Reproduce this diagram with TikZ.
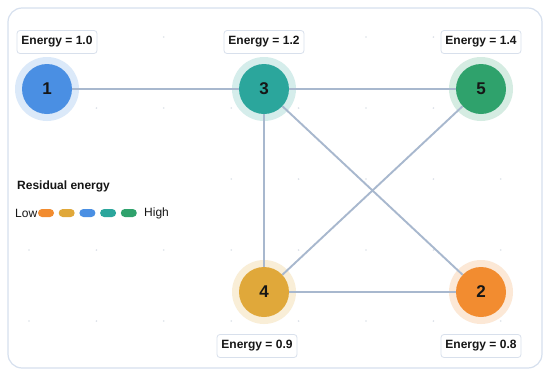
\documentclass[tikz,border=0pt]{standalone}
\usepackage{fontspec}
\setmainfont{Liberation Sans}
\usepackage{tikz}
\definecolor{ResOrange}{HTML}{F28C30}
\definecolor{ResGold}{HTML}{E0A83A}
\definecolor{ResBlue}{HTML}{4A8FE3}
\definecolor{ResTeal}{HTML}{2BA69C}
\definecolor{ResGreen}{HTML}{2FA26C}
\definecolor{LinkGray}{HTML}{A8B8CE}
\definecolor{FrameLine}{HTML}{D6E0EE}
\definecolor{TagLine}{HTML}{D8E0EC}
\definecolor{GridDot}{HTML}{DCE1E8}
\definecolor{NodeInk}{HTML}{161616}

\begin{document}
\begin{tikzpicture}[x=1pt,y=-1pt,
    sensor/.style={circle, inner sep=0pt, minimum size=50pt, text=NodeInk,
      font=\fontsize{17}{17}\selectfont\bfseries},
    link/.style={draw=LinkGray, line width=1.9pt},
    energytag/.style={draw=TagLine, line width=0.8pt, fill=white,
      rounded corners=3pt, minimum width=80pt, minimum height=23pt,
      inner sep=0pt, text=NodeInk, font=\fontsize{12}{12}\selectfont\bfseries},
    pill/.style={rounded corners=4pt, minimum width=16pt, minimum height=8pt,
      inner sep=0pt}]
    \useasboundingbox (0,0) rectangle (550,378);
    \draw[FrameLine, fill=white, line width=1.2pt, rounded corners=14pt]
      (8,8) rectangle (542,368);

    \foreach \i in {0,...,7}
      \foreach \j in {0,...,4}
        \fill[GridDot] (29+67.4*\i,37+71*\j) circle[radius=0.9];

    % legend area
    \fill[white] (12,168) rectangle (180,226);
    \node[anchor=west, inner sep=0pt, text=NodeInk,
      font=\fontsize{12}{12}\selectfont\bfseries] (legendtitle) at (17,186) {Residual energy};
    \node[anchor=west, inner sep=0pt, text=NodeInk,
      font=\fontsize{12}{12}\selectfont] (lowtext) at (15,213) {Low};
    \foreach \c [count=\k] in {ResOrange,ResGold,ResBlue,ResTeal,ResGreen}
      \node[pill, fill=\c] (pill\k) at (46+20.7*\k-20.7,213) {};
    \node[anchor=west, inner sep=0pt, text=NodeInk,
      font=\fontsize{12}{12}\selectfont] (hightext) at (144,213) {High};

    % sensors with halo
    \foreach \n/\x/\y/\c in {1/47/89/ResBlue, 3/264/89/ResTeal, 5/481/89/ResGreen,
                             4/264/292/ResGold, 2/481/292/ResOrange} {
      \fill[\c!20] (\x,\y) circle[radius=32];
      \node[sensor, fill=\c] (n\n) at (\x,\y) {\n};
    }

    \draw[link] (n1) -- (n3);
    \draw[link] (n3) -- (n5);
    \draw[link] (n3) -- (n4);
    \draw[link] (n3) -- (n2);
    \draw[link] (n5) -- (n4);
    \draw[link] (n4) -- (n2);

    \node[energytag] (e1) at (57,42) {Energy = 1.0};
    \node[energytag] (e3) at (264,42) {Energy = 1.2};
    \node[energytag] (e5) at (481,42) {Energy = 1.4};
    \node[energytag] (e4) at (257,346) {Energy = 0.9};
    \node[energytag] (e2) at (481,346) {Energy = 0.8};
  \end{tikzpicture}
\end{document}
